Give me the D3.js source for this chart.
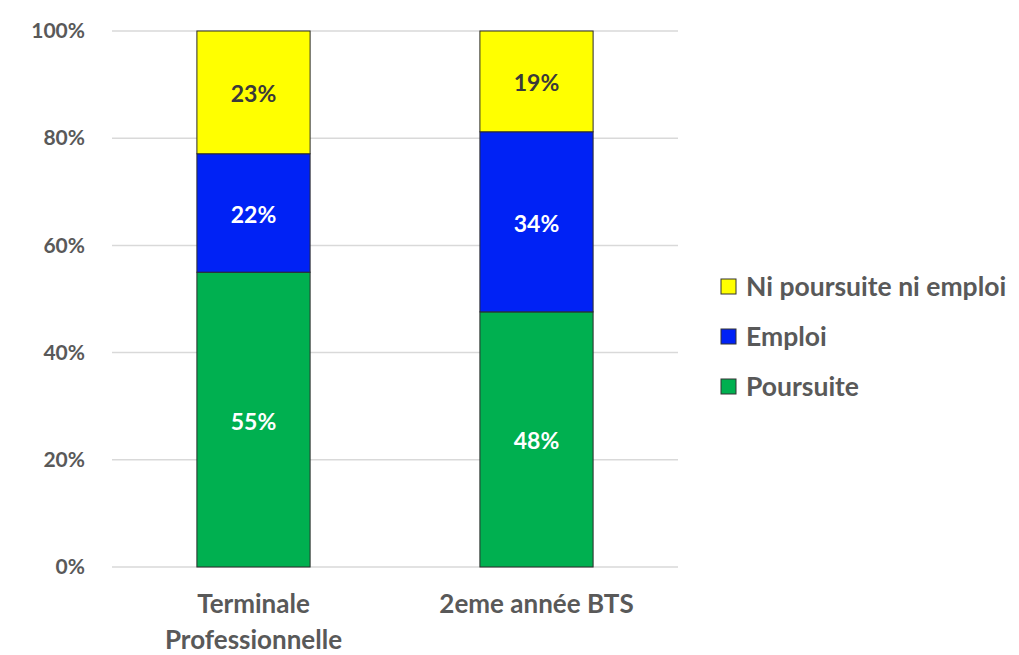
<!DOCTYPE html>
<html>
<head>
<meta charset="utf-8">
<script src="https://cdn.jsdelivr.net/npm/d3@7"></script>
<style>
  body { margin: 0; background: #fff; }
  text { font-family: Lato, "Open Sans", sans-serif; font-weight: bold; }
</style>
</head>
<body>
<div id="chart"></div>
<script>
// data
var categories = [["Terminale", "Professionnelle"], ["2eme année BTS"]];
var seriesNames = ["Poursuite", "Emploi", "Ni poursuite ni emploi"];
var poursuite = [55.0, 47.6];
var emploi = [22.1, 33.6];
var niPoursuite = [22.9, 18.8];
var yTicks = [0, 20, 40, 60, 80, 100];

var svgWidth = 1019;
var svgHeight = 655;
var margin = { top: 31, left: 112 };
var width = 566;
var height = 536;

var colors = ["#00b050", "#0022f5", "#ffff00"];
var labelColors = ["#fff", "#fff", "#3a3a3a"];

var svg = d3.select("#chart")
  .append("svg")
  .attr("width", svgWidth)
  .attr("height", svgHeight);

var chartGroup = svg.append("g")
  .attr("transform", `translate(${margin.left}, ${margin.top})`);

var x = d3.scaleBand()
  .domain(d3.range(categories.length))
  .range([0, width])
  .paddingInner(0.6)
  .paddingOuter(0.3);

var y = d3.scaleLinear()
  .domain([0, 100])
  .range([height, 0]);

// gridlines
chartGroup.selectAll(".grid")
  .data(yTicks)
  .enter()
  .append("line")
  .attr("x1", 0)
  .attr("x2", width)
  .attr("y1", d => y(d))
  .attr("y2", d => y(d))
  .attr("stroke", "#d9d9d9")
  .attr("stroke-width", 1.5);

// y labels
var leftAxis = d3.axisLeft(y).tickValues(yTicks).tickFormat(d => d + "%").tickSize(0).tickPadding(27);
var yAxis = chartGroup.append("g").call(leftAxis);
yAxis.select(".domain").remove();
yAxis.selectAll("text")
  .attr("fill", "#595959")
  .attr("font-size", 21)
  .attr("font-family", "Lato, sans-serif");

// stack
var rows = categories.map((c, i) => ({
  idx: i,
  Poursuite: poursuite[i],
  Emploi: emploi[i],
  "Ni poursuite ni emploi": niPoursuite[i]
}));
var stacked = d3.stack().keys(seriesNames)(rows);

var layers = chartGroup.selectAll(".layer")
  .data(stacked)
  .enter()
  .append("g")
  .attr("fill", (d, i) => colors[i]);

layers.selectAll("rect")
  .data(d => d)
  .enter()
  .append("rect")
  .attr("x", d => x(d.data.idx))
  .attr("width", x.bandwidth())
  .attr("y", d => y(d[1]))
  .attr("height", d => y(d[0]) - y(d[1]))
  .attr("stroke", "#2b2b2b")
  .attr("stroke-width", 1);

stacked.forEach(function(layer, i) {
  chartGroup.selectAll(".lbl" + i)
    .data(layer)
    .enter()
    .append("text")
    .attr("x", d => x(d.data.idx) + x.bandwidth() / 2)
    .attr("y", d => y((d[0] + d[1]) / 2) + 2)
    .attr("dy", "0.35em")
    .attr("text-anchor", "middle")
    .attr("font-size", 23)
    .attr("fill", labelColors[i])
    .text(d => Math.round(d[1] - d[0]) + "%");
});

// category labels
categories.forEach(function(lines, i) {
  var t = chartGroup.append("text")
    .attr("x", x(i) + x.bandwidth() / 2)
    .attr("y", height + 46)
    .attr("text-anchor", "middle")
    .attr("font-size", 26)
    .attr("fill", "#595959");
  lines.forEach(function(l, k) {
    t.append("tspan")
      .attr("x", x(i) + x.bandwidth() / 2)
      .attr("dy", k === 0 ? 0 : 36)
      .text(l);
  });
});

// legend (top to bottom: reversed series)
var legend = svg.append("g").attr("transform", "translate(721, 279)");
seriesNames.slice().reverse().forEach(function(name, k) {
  var i = seriesNames.indexOf(name);
  legend.append("rect")
    .attr("x", 0)
    .attr("y", k * 50)
    .attr("width", 15)
    .attr("height", 15)
    .attr("fill", colors[i])
    .attr("stroke", "#333")
    .attr("stroke-width", 1);
  legend.append("text")
    .attr("x", 25)
    .attr("y", k * 50 + 8)
    .attr("dy", "0.35em")
    .attr("font-size", 26.5)
    .attr("fill", "#595959")
    .text(name);
});
</script>
</body>
</html>
